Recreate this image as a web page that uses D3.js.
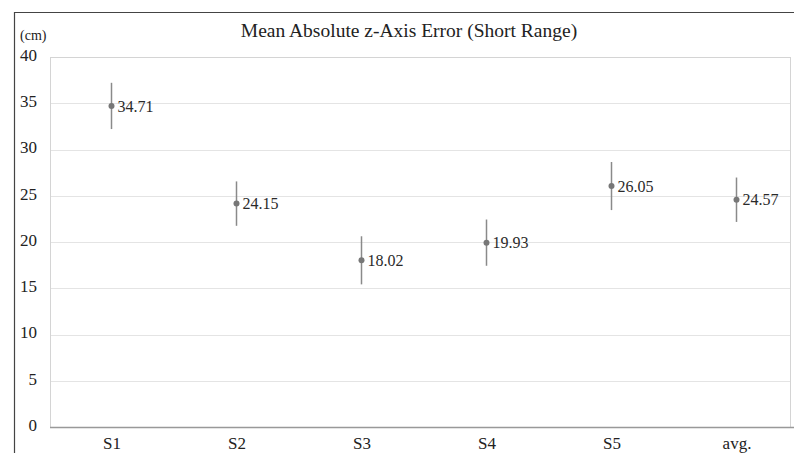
<!DOCTYPE html>
<html>
<head>
<meta charset="utf-8">
<script src="https://cdn.jsdelivr.net/npm/d3@7"></script>
<style>
body { margin:0; background:#fff; }
svg { display:block; }
svg text { font-family: "Liberation Serif", "Times New Roman", Times, serif; }
</style>
</head>
<body>
<svg></svg>
<script>
//----------data-------------
var subjects = ["S1", "S2", "S3", "S4", "S5", "avg."]
var meanErr = [34.71, 24.15, 18.02, 19.93, 26.05, 24.57]
var errSpread = [2.5, 2.4, 2.6, 2.5, 2.6, 2.4]
var yTicks = [0, 5, 10, 15, 20, 25, 30, 35, 40]

var rows = subjects.map(function(s, i)
{
	return {name: s, mean: meanErr[i], err: errSpread[i]}
})

var serif = "'Liberation Serif', 'Times New Roman', Times, serif"

//---------makegraph---------
var initgraph = function (data)
{
	var screen = {width:794, height:453}
	var margins = {left:50, right:4, top:57, bottom:26}

	var graph =
		{
			width: screen.width - margins.left - margins.right,
			height: screen.height - margins.top - margins.bottom
		}

	var svg = d3.select("svg")
	.attr("width", screen.width)
	.attr("height", screen.height)

	// outer frame of the picture
	svg.append("path")
	.attr("d", "M14.5," + screen.height + "V12.5H" + screen.width)
	.attr("fill", "none")
	.attr("stroke", "#444")
	.attr("stroke-width", 1.2)

	//-------scales--------
	var xScale = d3.scalePoint()
	.domain(subjects)
	.range([-1, 749])
	.padding(0.5)

	var yScale = d3.scaleLinear()
	.domain([0, 40])
	.range([graph.height, 0])

	var target = svg.append("g")
	.attr("transform", "translate(" + margins.left + "," + margins.top + ")")

	// plot area box
	target.append("rect")
	.attr("x", 0.5)
	.attr("y", 0.5)
	.attr("width", 740)
	.attr("height", graph.height)
	.attr("fill", "none")
	.attr("stroke", "#d4d4d4")

	// gridlines
	target.selectAll(".grid")
	.data(yTicks.filter(function(t) { return t > 0 && t < 40 }))
	.enter()
	.append("line")
	.attr("class", "grid")
	.attr("x1", 1)
	.attr("x2", 740)
	.attr("y1", function(t) { return Math.round(yScale(t)) + 0.5 })
	.attr("y2", function(t) { return Math.round(yScale(t)) + 0.5 })
	.attr("stroke", "#e4e4e4")
	.attr("stroke-width", 1.2)

	//---------axes---------
	var yAxis = d3.axisLeft(yScale)
	.tickValues(yTicks)
	.tickSize(0)
	.tickPadding(13)

	var ya = target.append("g").call(yAxis)
	ya.attr("font-family", serif)
	ya.select(".domain").remove()
	ya.selectAll("text")
	.style("font-family", serif)
	.attr("font-size", 17)
	.attr("fill", "#222")
	.attr("dy", "0.2em")

	var xAxis = d3.axisBottom(xScale)
	.tickSize(0)
	.tickPadding(10)

	var xa = target.append("g")
	.attr("transform", "translate(0," + graph.height + ")")
	.call(xAxis)
	xa.attr("font-family", serif)
	xa.select(".domain")
	.attr("d", "M0,0.5H" + (screen.width - margins.left))
	.attr("stroke", "#999")
	.attr("stroke-width", 1.5)
	xa.selectAll("text")
	.style("font-family", serif)
	.attr("font-size", 17)
	.attr("fill", "#222")

	//---------error bars and points---------
	target.selectAll(".errbar")
	.data(data)
	.enter()
	.append("line")
	.attr("class", "errbar")
	.attr("x1", function(d) { return xScale(d.name) })
	.attr("x2", function(d) { return xScale(d.name) })
	.attr("y1", function(d) { return yScale(d.mean + d.err) })
	.attr("y2", function(d) { return yScale(d.mean - d.err) })
	.attr("stroke", "#8a8a8a")
	.attr("stroke-width", 1.5)

	target.selectAll(".pt")
	.data(data)
	.enter()
	.append("circle")
	.attr("class", "pt")
	.attr("cx", function(d) { return xScale(d.name) })
	.attr("cy", function(d) { return yScale(d.mean) })
	.attr("r", 3)
	.attr("fill", "#777")

	target.selectAll(".lbl")
	.data(data)
	.enter()
	.append("text")
	.attr("class", "lbl")
	.attr("x", function(d) { return xScale(d.name) + 6 })
	.attr("y", function(d) { return yScale(d.mean) })
	.attr("dy", "0.35em")
	.style("font-family", serif)
	.attr("font-size", 16)
	.attr("fill", "#2a2a2a")
	.text(function(d) { return d.mean.toFixed(2) })

	//--------labels-------
	svg.append("text")
	.attr("x", 409)
	.attr("y", 37)
	.attr("text-anchor", "middle")
	.style("font-family", serif)
	.attr("font-size", 19.5)
	.attr("fill", "#222")
	.text("Mean Absolute z-Axis Error (Short Range)")

	svg.append("text")
	.attr("x", 20)
	.attr("y", 40)
	.style("font-family", serif)
	.attr("font-size", 14)
	.attr("fill", "#222")
	.text("(cm)")
}

initgraph(rows)
</script>
</body>
</html>
